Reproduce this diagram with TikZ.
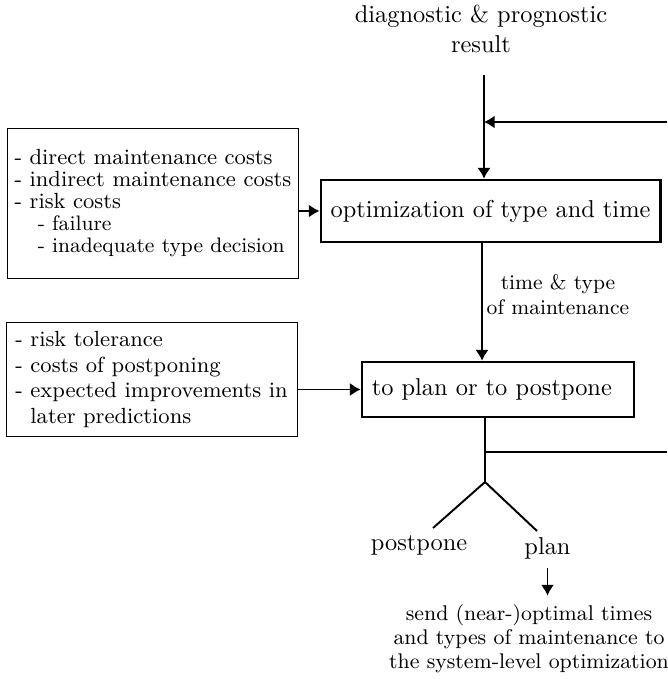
\documentclass[tikz,border=0pt]{standalone}
\usetikzlibrary{positioning,arrows.meta}

\tikzset{
  mainbox/.style={rectangle, draw, line width=1.1pt, inner xsep=4pt},
  inbox/.style={rectangle, draw, thin, align=left, inner xsep=0pt},
  lbl/.style={align=center},
}

\begin{document}
\begin{tikzpicture}[x=0.41pt, y=-0.41pt, >={Latex[length=4.4pt,width=5.4pt]}, thick]
  \useasboundingbox (0,0) rectangle (667,679);
  % Nodes
  \node (diag) [lbl] at (481,29) {diagnostic \& prognostic\\result};
  \node (opt) [mainbox, minimum width=139pt, minimum height=25.4pt] at (490.5,211) {optimization of type and time};
  \node (plan-dec) [mainbox, text width=103.5pt, align=left, minimum height=22.5pt] at (498,389.5) {to plan or to postpone};
  \node (costs) [inbox, minimum width=119.7pt, minimum height=61.5pt, font=\fontsize{9}{9}\selectfont] at (153,203) {%
    - direct maintenance costs\\
    - indirect maintenance costs\\
    - risk costs\\
    \hspace*{9.5pt}{\fontsize{8.6}{9}\selectfont - failure}\\
    \hspace*{9.5pt}{\fontsize{8.6}{9}\selectfont - inadequate type decision}};
  \node (risk) [inbox, minimum width=119.3pt, minimum height=47pt, font=\fontsize{9}{10.4}\selectfont] at (151.5,379.5) {%
    - risk tolerance\\
    - costs of postponing\\
    - expected improvements in\\
    \phantom{- }later predictions};
  \node (tt) [lbl, font=\fontsize{8.6}{10.2}\selectfont] at (558,294.5) {time \& type\\of maintenance};
  \node (pp) at (419,545) {postpone};
  \node (pl) at (547.5,548) {plan};
  \node (send) [lbl, font=\fontsize{8.7}{9.9}\selectfont] at (529,639) {send (near-)optimal times\\and types of maintenance to\\the system-level optimization};
  % Coordinates
  \coordinate (src) at (484,75);
  \coordinate (fb-in) at (667,122);
  \coordinate (mid) at (482,300);
  \coordinate (fork) at (485,482);
  \coordinate (fb-out) at (667,452);
  \coordinate (pp-end) at (433,528);
  \coordinate (pl-end) at (537,531);
  % Arrows
  \draw[->] (src) -- (src |- opt.north);
  \draw[->] (fb-in) -- (fb-in -| src);
  \draw[->] (opt.west -| costs.east) -- (opt.west);
  \draw[->] (mid |- opt.south) -- (mid |- plan-dec.north);
  \draw[->] (plan-dec.west -| risk.east) -- (plan-dec.west);
  \draw (fork |- plan-dec.south) -- (fork);
  \draw (fork |- fb-out) -- (fb-out);
  \draw (pp-end) -- (fork) -- (pl-end);
  \draw[->] (pl.south) -- (pl.south |- send.north);
\end{tikzpicture}
\end{document}
